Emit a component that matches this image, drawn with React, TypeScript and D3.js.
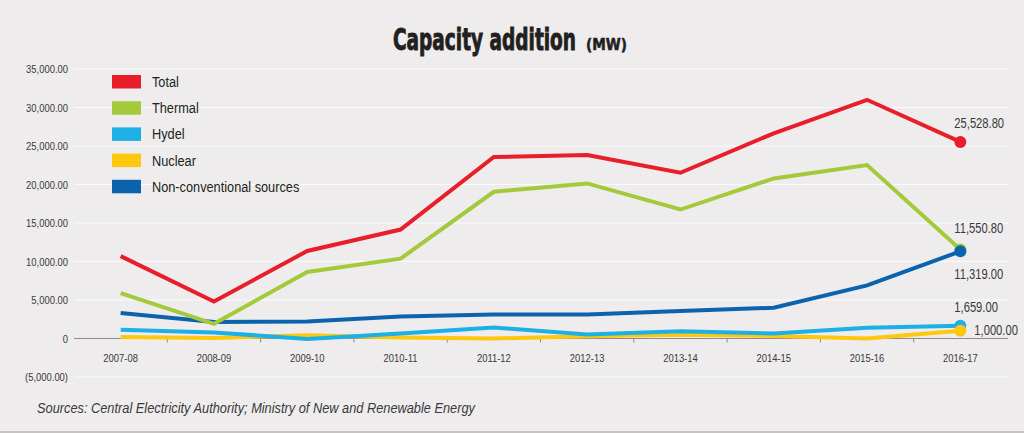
import React, { useEffect, useLayoutEffect, useRef, useState } from "react";
import * as d3 from "d3";

const categories = ["2007-08", "2008-09", "2009-10", "2010-11", "2011-12", "2012-13", "2013-14", "2014-15", "2015-16", "2016-17"];
const total = [10700, 4800, 11370, 14150, 23570, 23830, 21520, 26650, 31000, 25528.8];
const thermal = [5900, 1910, 8640, 10370, 19050, 20140, 16750, 20790, 22530, 11550.8];
const hydel = [1130, 780, -50, 650, 1420, 520, 950, 650, 1400, 1659];
const nuclear = [200, 80, 430, 130, 0, 300, 500, 340, 0, 1000];
const nonConventional = [3300, 2130, 2220, 2870, 3130, 3130, 3560, 4000, 6900, 11319];
const yTicks = [-5000, 0, 5000, 10000, 15000, 20000, 25000, 30000, 35000];

const seriesNames = ["Total", "Thermal", "Hydel", "Nuclear", "Non-conventional sources"];
const seriesValues = [total, thermal, hydel, nuclear, nonConventional];
const seriesColors = ["#e81e2b", "#a4c93b", "#1cb0e6", "#fdc80f", "#0b63ae"];
const endLabels = ["25,528.80", "11,550.80", "1,659.00", "1,000.00", "11,319.00"];

const W = 1024;
const H = 433;
const FONT = "'Liberation Sans', Arial, sans-serif";
const TITLE_FONT = "'DejaVu Sans Condensed', 'DejaVu Sans', sans-serif";

type NTextProps = {
  x: number;
  y: number;
  size: number;
  sx?: number;
  anchor?: "start" | "middle" | "end";
  fill?: string;
  italic?: boolean;
  children: React.ReactNode;
};

function NText({ x, y, size, sx = 0.82, anchor = "start", fill = "#3a3a3a", italic = false, children }: NTextProps) {
  return (
    <g transform={`translate(${x},${y}) scale(${sx},1)`}>
      <text x={0} y={0} textAnchor={anchor} fontFamily={FONT} fontSize={size} fill={fill} fontStyle={italic ? "italic" : "normal"}>
        {children}
      </text>
    </g>
  );
}

function FitText({ x, y, width, size, stroke, children }: { x: number; y: number; width: number; size: number; stroke: number; children: string }) {
  const ref = useRef<SVGTextElement>(null);
  const [sx, setSx] = useState(0.75);
  useLayoutEffect(() => {
    if (ref.current) {
      const len = ref.current.getComputedTextLength();
      if (len > 0) setSx(width / len);
    }
  }, [width]);
  return (
    <g transform={`translate(${x},${y}) scale(${sx},1)`}>
      <text ref={ref} x={0} y={0} fontFamily={TITLE_FONT} fontWeight="bold" fontSize={size} fill="#231f20" stroke="#231f20" strokeWidth={stroke}>
        {children}
      </text>
    </g>
  );
}

export default function App() {
  useEffect(() => {
    document.body.style.margin = "0";
  }, []);

  const x = d3.scaleBand<string>().domain(categories).range([74, 1007]);
  const y = d3.scaleLinear().domain([-5000, 35000]).range([377, 69]);
  const cx = (c: string) => (x(c) ?? 0) + x.bandwidth() / 2;

  const line = d3
    .line<number>()
    .x((_, i) => cx(categories[i]))
    .y((d) => y(d));

  const fmt = (v: number) => (v < 0 ? `(${d3.format(",.2f")(-v)})` : v === 0 ? "0" : d3.format(",.2f")(v));

  const drawOrder = [3, 2, 4, 1, 0];
  const dotOrder = [2, 3, 1, 4, 0];
  const last = categories[categories.length - 1];

  const labelOffsets: [number, number][] = [
    [-6, -14],
    [-6, -17],
    [-6, -14],
    [14, 4],
    [-6, 28],
  ];

  return (
    <svg width={W} height={H} style={{ position: "absolute", left: 0, top: 0, background: "#eeecec" }}>
      <rect x={0} y={0} width={W} height={H} fill="#eeecec" />
      <line x1={0} x2={W} y1={432} y2={432} stroke="#b8b6b6" strokeWidth={1.5} />

      {/* title */}
      <FitText x={393} y={50} width={183} size={30} stroke={0.9}>
        Capacity addition
      </FitText>
      <FitText x={586} y={50} width={41} size={15} stroke={0.5}>
        (MW)
      </FitText>

      {/* grid */}
      {yTicks.map((t) => (
        <g key={t}>
          {t !== 0 && <line x1={74} x2={1008} y1={y(t)} y2={y(t)} stroke="#ffffff" strokeWidth={1.2} opacity={0.8} />}
          <NText x={68} y={y(t) + 4} size={11.5} anchor="end">
            {fmt(t)}
          </NText>
        </g>
      ))}

      {/* zero axis */}
      <line x1={74} x2={1008} y1={y(0)} y2={y(0)} stroke="#8d8b8b" strokeWidth={1} />
      {categories.slice(1).map((c) => (
        <line key={c} x1={x(c)} x2={x(c)} y1={y(0)} y2={y(0) + 4} stroke="#8d8b8b" strokeWidth={1} />
      ))}
      {categories.map((c) => (
        <NText key={c} x={cx(c)} y={362} size={11.5} anchor="middle">
          {c}
        </NText>
      ))}

      {/* lines */}
      {drawOrder.map((i) => (
        <path key={seriesNames[i]} d={line(seriesValues[i]) ?? ""} fill="none" stroke={seriesColors[i]} strokeWidth={4} strokeLinejoin="miter" />
      ))}
      {dotOrder.map((i) => (
        <circle key={seriesNames[i] + "-dot"} cx={cx(last)} cy={y(seriesValues[i][seriesValues[i].length - 1])} r={6} fill={seriesColors[i]} />
      ))}
      {seriesValues.map((vals, i) => (
        <NText
          key={seriesNames[i] + "-lab"}
          x={cx(last) + labelOffsets[i][0]}
          y={y(vals[vals.length - 1]) + labelOffsets[i][1]}
          size={14}
          sx={0.8}
        >
          {endLabels[i]}
        </NText>
      ))}

      {/* legend */}
      {seriesNames.map((n, i) => (
        <g key={n + "-leg"} transform={`translate(112, ${75 + i * 26.2})`}>
          <rect x={0} y={0} width={29} height={13.5} fill={seriesColors[i]} />
          <NText x={40} y={12} size={15} sx={0.85} fill="#231f20">
            {n}
          </NText>
        </g>
      ))}

      {/* source */}
      <text x={37} y={413} fontFamily={FONT} fontStyle="italic" fontSize={15} fill="#3a3a3a" textLength={438} lengthAdjust="spacingAndGlyphs">
        Sources: Central Electricity Authority; Ministry of New and Renewable Energy
      </text>
    </svg>
  );
}
